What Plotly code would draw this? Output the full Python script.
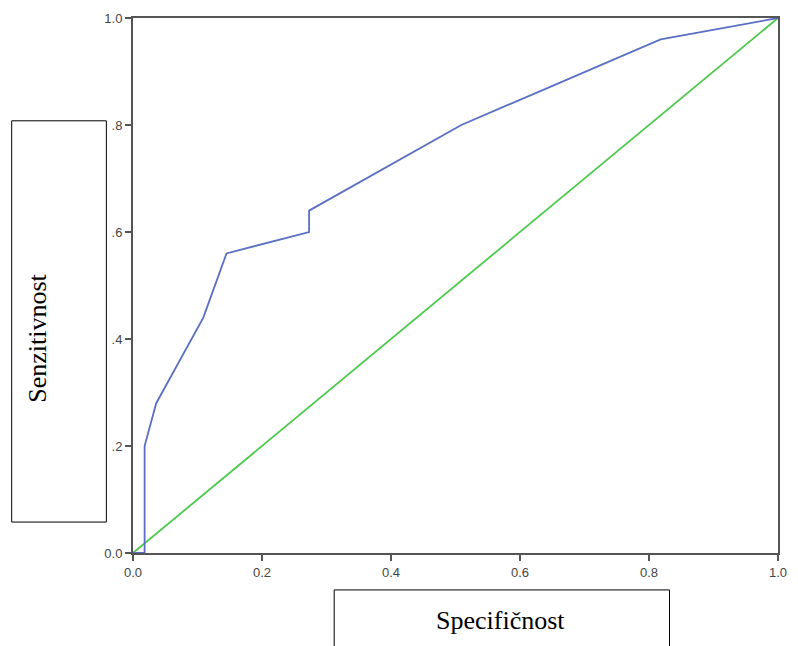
import plotly.graph_objects as go

# ROC curve data (1 - specificity on x, sensitivity on y)
roc_x = [0.0, 0.018, 0.018, 0.036, 0.109, 0.145, 0.273, 0.273, 0.509, 0.818, 1.0]
roc_y = [0.0, 0.0, 0.20, 0.28, 0.44, 0.56, 0.60, 0.64, 0.80, 0.96, 1.0]
ref_x = [0.0, 1.0]
ref_y = [0.0, 1.0]

x_tickvals = [0.0, 0.2, 0.4, 0.6, 0.8, 1.0]
x_ticktext = ["0.0", "0.2", "0.4", "0.6", "0.8", "1.0"]
y_tickvals = [0.0, 0.2, 0.4, 0.6, 0.8, 1.0]
y_ticktext = ["0.0", ".2", ".4", ".6", ".8", "1.0"]

W, H = 798, 646
L, R, T, B = 133, W - 787, 17, 646 - 553
pw, ph = W - L - R, H - T - B


def px(x):
    return (x - L) / pw


def py(y):
    return (H - B - y) / ph


fig = go.Figure()
fig.add_trace(go.Scatter(x=ref_x, y=ref_y, mode="lines",
                         line=dict(color="#4cc94c", width=1.8), hoverinfo="skip"))
fig.add_trace(go.Scatter(x=roc_x, y=roc_y, mode="lines",
                         line=dict(color="#5a6fc4", width=1.8), hoverinfo="skip"))

axis_font = dict(family="Liberation Sans, Arial, sans-serif", size=13, color="#444444")

fig.update_layout(
    width=W, height=H, autosize=False,
    margin=dict(l=L, r=R, t=T, b=B, pad=0),
    plot_bgcolor="white", paper_bgcolor="white",
    showlegend=False,
    xaxis=dict(range=[0, 1], tickvals=x_tickvals, ticktext=x_ticktext,
               showgrid=False, zeroline=False, showline=True, linecolor="#555555",
               linewidth=2, mirror=True, ticks="outside", ticklen=6, tickwidth=2,
               tickcolor="#555555", tickfont=axis_font, fixedrange=True),
    yaxis=dict(range=[0, 1], tickvals=y_tickvals, ticktext=y_ticktext,
               showgrid=False, zeroline=False, showline=True, linecolor="#555555",
               linewidth=2, mirror=True, ticks="outside", ticklen=6, tickwidth=1.5,
               tickcolor="#555555", tickfont=axis_font, fixedrange=True),
    shapes=[
        dict(type="rect", xref="paper", yref="paper",
             x0=px(10), x1=px(106), y0=py(522), y1=py(120),
             line=dict(color="black", width=1), fillcolor="rgba(0,0,0,0)"),
        dict(type="rect", xref="paper", yref="paper",
             x0=px(337), x1=px(677), y0=py(650), y1=py(590),
             line=dict(color="black", width=1), fillcolor="rgba(0,0,0,0)"),
    ],
    annotations=[
        dict(text="Senzitivnost", xref="paper", yref="paper",
             x=px(36), y=py(338), textangle=-90, showarrow=False,
             xanchor="center", yanchor="middle",
             font=dict(family="Liberation Serif, Times New Roman, serif", size=26, color="black")),
        dict(text="Specifičnost", xref="paper", yref="paper",
             x=px(506), y=py(621), showarrow=False,
             xanchor="center", yanchor="middle",
             font=dict(family="Liberation Serif, Times New Roman, serif", size=26, color="black")),
    ],
)

fig.write_html(
    "out.html",
    config={"displayModeBar": False, "staticPlot": True},
    post_script=(
        "document.documentElement.style.margin='0px';"
        "document.documentElement.style.overflow='hidden';"
        "document.body.style.margin='0px';document.body.style.overflow='hidden';"
    ),
)
